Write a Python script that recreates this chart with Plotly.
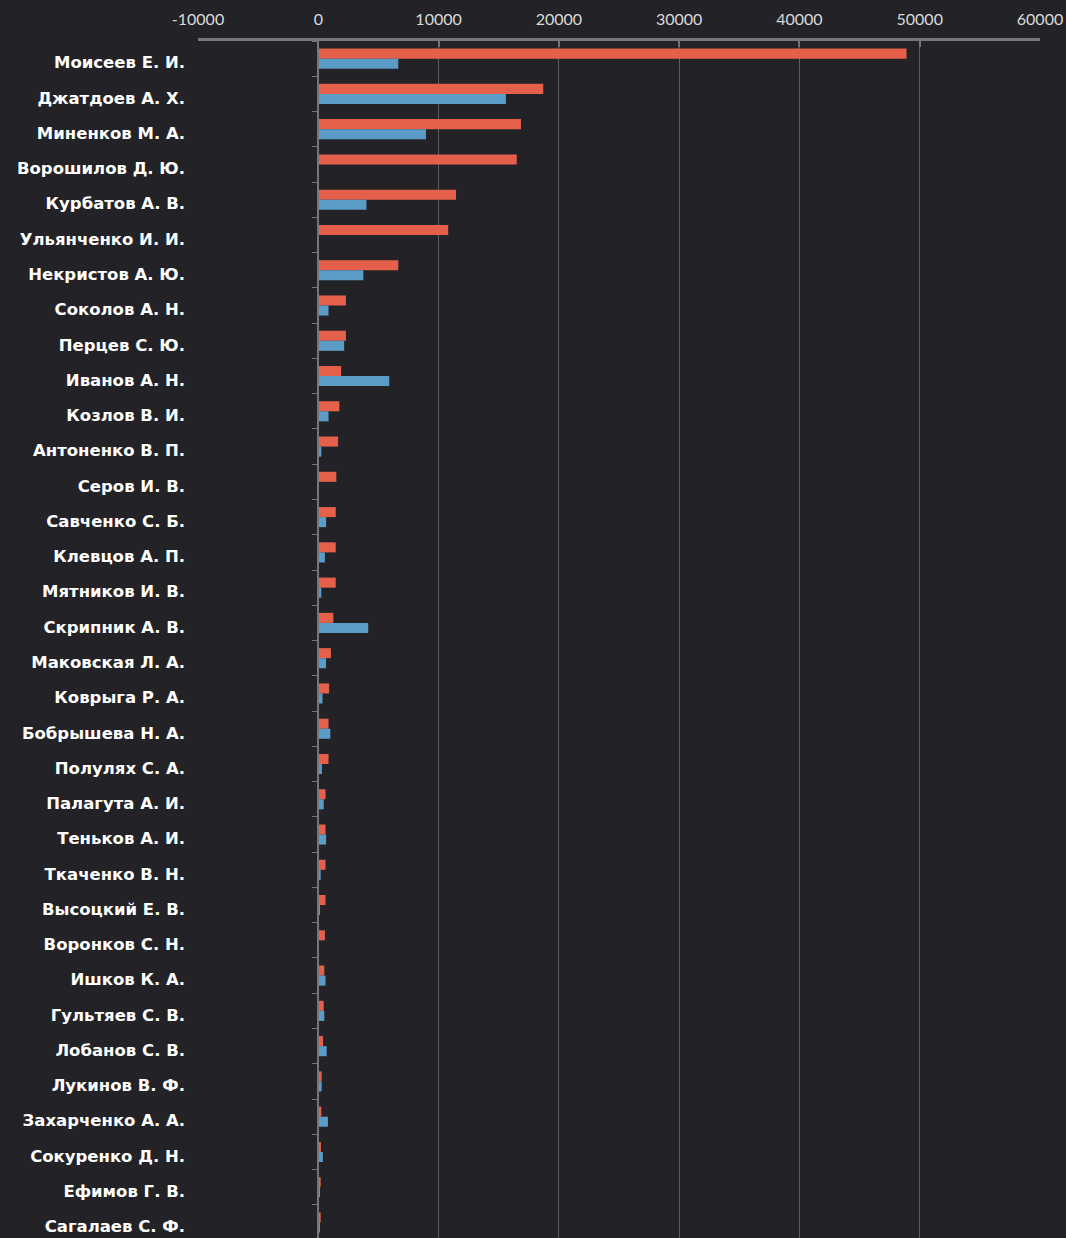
import plotly.graph_objects as go

names = [
    "Моисеев Е. И.", "Джатдоев А. Х.", "Миненков М. А.", "Ворошилов Д. Ю.",
    "Курбатов А. В.", "Ульянченко И. И.", "Некристов А. Ю.", "Соколов А. Н.",
    "Перцев С. Ю.", "Иванов А. Н.", "Козлов В. И.", "Антоненко В. П.",
    "Серов И. В.", "Савченко С. Б.", "Клевцов А. П.", "Мятников И. В.",
    "Скрипник А. В.", "Маковская Л. А.", "Коврыга Р. А.", "Бобрышева Н. А.",
    "Полулях С. А.", "Палагута А. И.", "Теньков А. И.", "Ткаченко В. Н.",
    "Высоцкий Е. В.", "Воронков С. Н.", "Ишков К. А.", "Гультяев С. В.",
    "Лобанов С. В.", "Лукинов В. Ф.", "Захарченко А. А.", "Сокуренко Д. Н.",
    "Ефимов Г. В.", "Сагалаев С. Ф.",
]

red_values = [
    48900, 18700, 16850, 16500, 11450, 10800, 6650, 2300,
    2300, 1900, 1750, 1650, 1500, 1450, 1450, 1450,
    1250, 1050, 900, 850, 850, 600, 600, 600,
    600, 550, 500, 450, 400, 280, 250, 220,
    200, 200,
]

blue_values = [
    6650, 15600, 8950, 0, 4000, 0, 3750, 850,
    2150, 5900, 850, 250, 50, 650, 550, 250,
    4150, 650, 350, 1000, 300, 450, 650, 200,
    80, 50, 600, 500, 700, 280, 800, 380,
    60, 100,
]

x_ticks = [-10000, 0, 10000, 20000, 30000, 40000, 50000, 60000]

BG = "#232327"
RED = "#e5604b"
BLUE = "#5b9cc7"
GRID = "#5c5c61"
AXIS = "#76767a"

x_range = [x_ticks[0], x_ticks[-1]]
zero_pos = (0 - x_range[0]) / (x_range[1] - x_range[0])

fig = go.Figure()
fig.add_trace(go.Bar(y=names, x=red_values, orientation="h", marker_color=RED,
                     marker_line_width=0, name="red"))
fig.add_trace(go.Bar(y=names, x=blue_values, orientation="h", marker_color=BLUE,
                     marker_line_width=0, name="blue"))
# invisible helper trace to draw category boundary ticks on the zero line
fig.add_trace(go.Scatter(y=names, x=[0] * len(names), mode="markers",
                         marker=dict(opacity=0), yaxis="y2", hoverinfo="skip",
                         showlegend=False))

n = len(names)
fig.update_layout(
    width=1066, height=1238,
    paper_bgcolor=BG, plot_bgcolor=BG,
    margin=dict(l=198, r=26, t=41, b=0),
    barmode="group", bargap=0.43, bargroupgap=0,
    showlegend=False,
    xaxis=dict(
        side="top", range=x_range, tickvals=x_ticks,
        ticktext=[str(v) for v in x_ticks],
        showgrid=True, gridcolor=GRID, gridwidth=1,
        zeroline=False,
        showline=True, linecolor=AXIS, linewidth=3,
        ticks="inside", ticklen=6, tickcolor=AXIS, tickwidth=2,
        tickfont=dict(family="Lato", size=16, color="#dadada"),
        ticklabelstandoff=7,
    ),
    yaxis=dict(
        type="category", categoryorder="array", categoryarray=names,
        range=[n - 0.56, -0.5],
        showgrid=False, zeroline=False, showline=False, ticks="",
        tickfont=dict(family="DejaVu Sans", size=16.5, color="#ffffff", weight="bold"),
        ticklabelstandoff=12, ticklabelshift=-4,
    ),
    yaxis2=dict(
        type="category", categoryorder="array", categoryarray=names,
        overlaying="y", matches="y", anchor="free", position=zero_pos, side="left",
        showline=True, linecolor=AXIS, linewidth=2,
        ticks="outside", ticklen=5, tickcolor=AXIS, tickwidth=1,
        tickson="boundaries", showticklabels=False, showgrid=False, zeroline=False,
    ),
)

fig.write_html(
    "out.html",
    config={"displayModeBar": False},
    post_script="document.body.style.margin='0';document.body.style.background='%s';"
                "document.documentElement.style.overflow='hidden';" % BG,
)
